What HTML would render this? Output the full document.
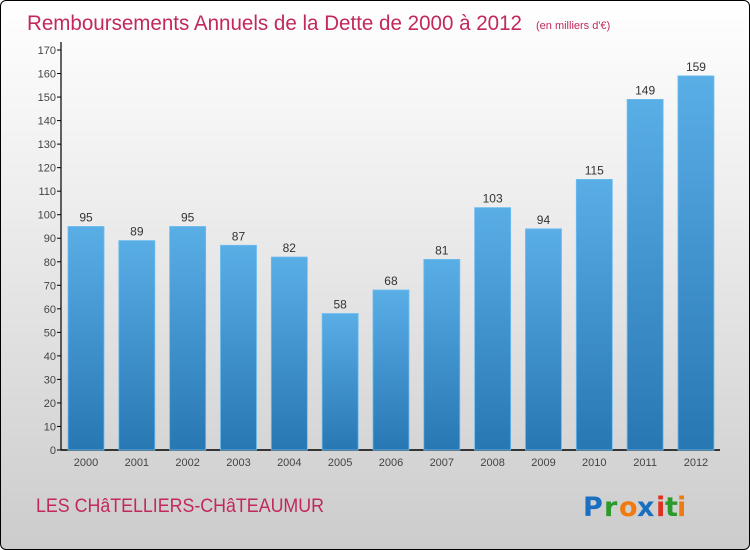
<!DOCTYPE html>
<html><head><meta charset="utf-8"><style>
body{margin:0;width:750px;height:550px;overflow:hidden;font-family:"Liberation Sans",sans-serif}
#wrap{position:absolute;left:0;top:0;width:748px;height:548px;border:1px solid #000;border-radius:6px;background:linear-gradient(#fff 0%,#eee 35%,#ccc 100%)}
</style></head><body>
<div id="wrap">
<svg width="750" height="550" style="position:absolute;left:-1px;top:-1px">
<defs><linearGradient id="bg" x1="0" y1="0" x2="0" y2="1"><stop offset="0" stop-color="#5aaee6"/><stop offset="1" stop-color="#2777b3"/></linearGradient></defs>
<text x="27" y="30" font-size="21" fill="#c2285e" textLength="495" lengthAdjust="spacingAndGlyphs">Remboursements Annuels de la Dette de 2000 à 2012</text>
<text x="536" y="29" font-size="11" fill="#c2285e">(en milliers d'€)</text>
<g id="axes"></g><g id="bars"></g>
<text x="36" y="512" font-size="19" fill="#c2285e" textLength="288" lengthAdjust="spacingAndGlyphs">LES CHâTELLIERS-CHâTEAUMUR</text>
<g font-size="27" font-weight="bold" font-family="'DejaVu Sans',sans-serif">
<text x="583" y="516" fill="#1a6fc0">P</text><text x="604" y="516" fill="#2a9a2a">r</text><text x="619" y="516" fill="#f07a10">o</text><text x="637" y="516" fill="#1a6fc0">x</text><text x="656" y="516" fill="#e03020">i</text><text x="665" y="516" fill="#2a9a2a">t</text><text x="677" y="516" fill="#f07a10">i</text>
</g>
</svg></div>
<script>
const years=["2000","2001","2002","2003","2004","2005","2006","2007","2008","2009","2010","2011","2012"];
const values=[95,89,95,87,82,58,68,81,103,94,115,149,159];
const yTicks=[0,10,20,30,40,50,60,70,80,90,100,110,120,130,140,150,160,170];
const NS="http://www.w3.org/2000/svg";
const y=v=>450-v*400/170;
const x=i=>68+i*50.83;
function mk(t,a,p){const e=document.createElementNS(NS,t);for(const k in a)e.setAttribute(k,a[k]);p.appendChild(e);return e;}
const ax=document.getElementById('axes'),bs=document.getElementById('bars');
let l=mk('line',{x1:61,y1:42,x2:61,y2:450,stroke:'#000','stroke-width':1.2},ax);


l=mk('line',{x1:61,y1:450,x2:720,y2:450,stroke:'#000','stroke-width':1.5},ax);


yTicks.forEach(v=>{
 mk('line',{x1:57,y1:y(v),x2:61,y2:y(v),stroke:'#000'},ax);
 const t=mk('text',{x:56,y:y(v)+4,'font-size':11,fill:'#444','text-anchor':'end'},ax);t.textContent=v;
 
 
});
values.forEach((v,i)=>{
 const r=mk('rect',{x:x(i),y:y(v),width:36,height:450-y(v),fill:'url(#bg)',stroke:'#6bbcf0','stroke-width':0.8},bs);
 
 
 const t=mk('text',{x:x(i)+18,y:y(v)-5,'font-size':12,fill:'#333','text-anchor':'middle'},bs);t.textContent=v;
 
 
 const xl=mk('text',{x:x(i)+18,y:466,'font-size':11,fill:'#444','text-anchor':'middle'},bs);xl.textContent=years[i];
 
 
});
</script>
</body></html>
